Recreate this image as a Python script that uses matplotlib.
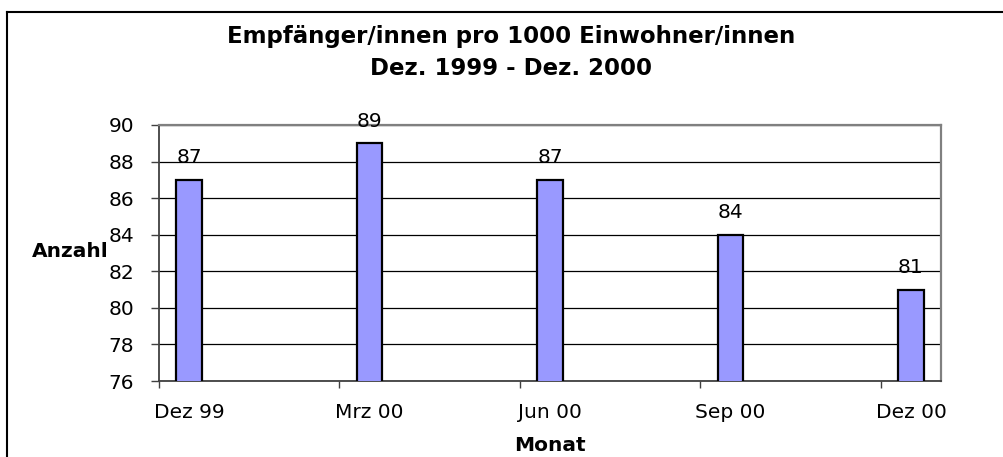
import matplotlib.pyplot as plt
from matplotlib.lines import Line2D

# Werte aus dem Diagramm
monate = ['Dez 99', 'Mrz 00', 'Jun 00', 'Sep 00', 'Dez 00']
monat_index = [0, 3, 6, 9, 12]   # Monate seit Dez 1999
anzahl = [87, 89, 87, 84, 81]
y_ticks = [76, 78, 80, 82, 84, 86, 88, 90]

plt.rcParams['font.family'] = ['DejaVu Sans']

fig = plt.figure(figsize=(10.04, 4.57), dpi=100)
ax = fig.add_axes([0.1584, 0.1663, 0.7789, 0.5602])

# Balken in der Mitte des jeweiligen Monats
centers = [m + 0.5 for m in monat_index]
ax.bar(centers, anzahl, width=0.42, color='#9999FF',
       edgecolor='black', linewidth=1.6, zorder=3)

for c, v in zip(centers, anzahl):
    ax.annotate(str(v), (c, v), xytext=(0, 12), textcoords='offset points',
                ha='center', va='baseline', fontsize=14.5)

ax.set_xlim(0, 13)
ax.set_ylim(76, 90)
ax.set_yticks(y_ticks)
ax.yaxis.grid(True, color='black', linewidth=0.9, zorder=0)
ax.set_axisbelow(True)

# Striche an den Monatsgrenzen, Beschriftung mittig unter den Balken
ax.set_xticks(monat_index)
ax.set_xticklabels([''] * len(monat_index))
ax.set_xticks(centers, minor=True)
ax.set_xticklabels(monate, minor=True, fontsize=14.5)
ax.tick_params(axis='x', which='major', length=5, width=1, color='#404040', direction='out')
ax.tick_params(axis='x', which='minor', length=0, pad=16)
ax.tick_params(axis='y', length=6, width=1, color='#404040', pad=12, labelsize=14.5)

for side in ['top', 'right']:
    ax.spines[side].set_color('#808080')
    ax.spines[side].set_linewidth(1.6)
for side in ['left', 'bottom']:
    ax.spines[side].set_color('#404040')
    ax.spines[side].set_linewidth(1.3)

fig.text(0.509, 0.9059, 'Empfänger/innen pro 1000 Einwohner/innen', ha='center',
         va='baseline', fontsize=16.5, fontweight='bold')
fig.text(0.509, 0.8359, 'Dez. 1999 - Dez. 2000', ha='center', va='baseline',
         fontsize=16.5, fontweight='bold')
fig.text(0.1086, 0.4376, 'Anzahl', ha='right', va='baseline', fontsize=14.5,
         fontweight='bold')
fig.text(0.5478, 0.0131, 'Monat', ha='center', va='baseline', fontsize=14.5,
         fontweight='bold')

# Rahmen des Diagrammbereichs (rechts und unten abgeschnitten)
fig.add_artist(Line2D([0.007, 1.0], [0.9737, 0.9737], color='black', linewidth=1.5))
fig.add_artist(Line2D([0.007, 0.007], [0.0, 0.9737], color='black', linewidth=1.5))

fig.savefig('out.png', dpi=100)
